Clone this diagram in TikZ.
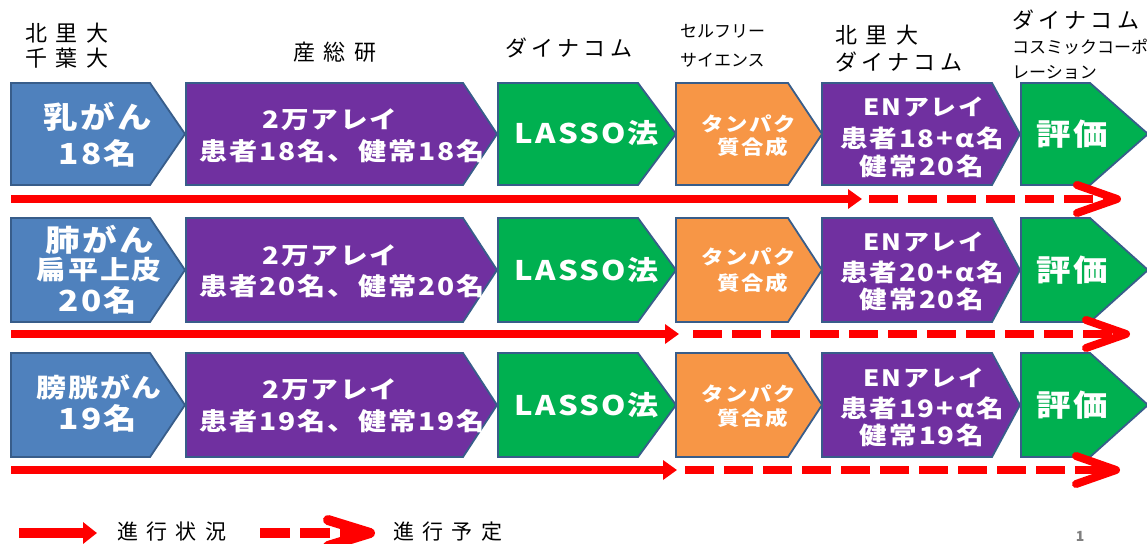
\documentclass[tikz,border=0pt]{standalone}
\usepackage{fontspec}
\usetikzlibrary{arrows.meta}
\newfontfamily\jpb{Noto Sans CJK JP}[FakeStretch=1.15,LetterSpace=8]
\newfontfamily\jpk{Noto Sans CJK JP}[LetterSpace=40]
\newfontfamily\jpn{Noto Sans CJK JP}[LetterSpace=20]
\newfontfamily\jps{Noto Sans CJK JP}
\definecolor{cblue}{HTML}{4F81BD}
\definecolor{cpurple}{HTML}{7030A0}
\definecolor{cgreen}{HTML}{00B050}
\definecolor{corange}{HTML}{F79646}
\definecolor{cedge}{HTML}{385D8A}
\newcommand\fs[1]{\fontsize{#1}{#1}\selectfont}
% pentagon: left, slant start, tip, top, bottom, colour
\newcommand\pent[6]{\filldraw[box,fill=#6] (#1,#4) -- (#2,#4) -- (#3,{(#4+#5)/2}) -- (#2,#5) -- (#1,#5) -- cycle;}
\tikzset{
  box/.style={draw=cedge, line width=1.8pt, line join=miter},
  wt/.style={text=white, inner sep=0pt, anchor=center},
  lbl/.style={text=black, inner sep=0pt, anchor=west},
  prog/.style={draw=red, line width=8pt, -{Triangle[length=14pt,width=19pt]}},
  plan/.style={draw=red, line width=8pt, dash pattern=on 29pt off 10pt},
  chev/.style={draw=red, line width=8pt, line cap=round, line join=round},
}
\begin{document}
\begin{tikzpicture}[x=1pt,y=-1pt]
\useasboundingbox (0,0) rectangle (1147,543);
% ---------- boxes ----------
\foreach \t/\b in {83/185,218/322,353/457}{
  \pent{11}{150}{185}{\t}{\b}{cblue}
  \pent{186}{463}{497}{\t}{\b}{cpurple}
  \pent{498}{638}{676}{\t}{\b}{cgreen}
  \pent{676}{788}{822}{\t}{\b}{corange}
  \pent{822}{992}{1020}{\t}{\b}{cpurple}
  \pent{1021}{1090}{1148}{\t}{\b}{cgreen}
}
% ---------- top labels ----------
\node[lbl,font=\jpk\fs{22}] (l1a) at (25,33) {北里大};
\node[lbl,font=\jpk\fs{22}] (l1b) at (25,58) {千葉大};
\node[lbl,font=\jpk\fs{22}] (l2) at (293,52) {産総研};
\node[lbl,font=\jpn\fs{22}] (l3) at (505,48) {ダイナコム};
\node[lbl,font=\jps\fs{17}] (l4a) at (680,31) {セルフリー};
\node[lbl,font=\jps\fs{17}] (l4b) at (680,60) {サイエンス};
\node[lbl,font=\jpk\fs{22}] (l5a) at (835,35) {北里大};
\node[lbl,font=\jpn\fs{22}] (l5b) at (835,62) {ダイナコム};
\node[lbl,font=\jpn\fs{22}] (l6a) at (1012,20) {ダイナコム};
\node[lbl,font=\jps\fs{17}] (l6b) at (1012,47) {コスミックコーポ};
\node[lbl,font=\jps\fs{17}] (l6c) at (1012,72) {レーション};
% ---------- row 1 ----------
\node[wt,font=\jpb\bfseries\fs{30}] (a1) at (98,117) {乳がん};
\node[wt,font=\jpb\bfseries\fs{29}] (a2) at (98,153) {18名};
\node[wt,font=\jpb\bfseries\fs{24}] (b1) at (330,120) {2万アレイ};
\node[wt,font=\jpb\bfseries\fs{24.5}] (b2) at (342,151) {患者18名、健常18名};
\node[wt,font=\jpb\bfseries\fs{27}] (c1) at (587,133) {LASSO法};
\node[wt,font=\jpb\bfseries\fs{19.5}] (d1) at (749,124) {タンパク};
\node[wt,font=\jpb\bfseries\fs{19.5}] (d2) at (753,147) {質合成};
\node[wt,font=\jpb\bfseries\fs{22.5}] (e1) at (924,107) {ENアレイ};
\node[wt,font=\jpb\bfseries\fs{24}] (e2) at (922,138) {患者18+α名};
\node[wt,font=\jpb\bfseries\fs{24}] (e3) at (922,166) {健常20名};
\node[wt,font=\jpb\bfseries\fs{30}] (f1) at (1072,134) {評価};
% ---------- row 2 ----------
\node[wt,font=\jpb\bfseries\fs{30}] (a3) at (100,240) {肺がん};
\node[wt,font=\jpb\bfseries\fs{26}] (a4) at (99,270) {扁平上皮};
\node[wt,font=\jpb\bfseries\fs{29}] (a5) at (98,300) {20名};
\node[wt,font=\jpb\bfseries\fs{24}] (b3) at (330,256) {2万アレイ};
\node[wt,font=\jpb\bfseries\fs{24.5}] (b4) at (342,286) {患者20名、健常20名};
\node[wt,font=\jpb\bfseries\fs{27}] (c2) at (587,270) {LASSO法};
\node[wt,font=\jpb\bfseries\fs{19.5}] (d3) at (749,257) {タンパク};
\node[wt,font=\jpb\bfseries\fs{19.5}] (d4) at (753,283) {質合成};
\node[wt,font=\jpb\bfseries\fs{22.5}] (e4) at (924,242) {ENアレイ};
\node[wt,font=\jpb\bfseries\fs{24}] (e5) at (922,272) {患者20+α名};
\node[wt,font=\jpb\bfseries\fs{24}] (e6) at (922,299) {健常20名};
\node[wt,font=\jpb\bfseries\fs{30}] (f2) at (1072,270) {評価};
% ---------- row 3 ----------
\node[wt,font=\jpb\bfseries\fs{26}] (a6) at (99,387) {膀胱がん};
\node[wt,font=\jpb\bfseries\fs{29}] (a7) at (98,418) {19名};
\node[wt,font=\jpb\bfseries\fs{24}] (b5) at (330,390) {2万アレイ};
\node[wt,font=\jpb\bfseries\fs{24.5}] (b6) at (342,421) {患者19名、健常19名};
\node[wt,font=\jpb\bfseries\fs{27}] (c3) at (587,405) {LASSO法};
\node[wt,font=\jpb\bfseries\fs{19.5}] (d5) at (749,394) {タンパク};
\node[wt,font=\jpb\bfseries\fs{19.5}] (d6) at (753,418) {質合成};
\node[wt,font=\jpb\bfseries\fs{22.5}] (e7) at (924,378) {ENアレイ};
\node[wt,font=\jpb\bfseries\fs{24}] (e8) at (922,408) {患者19+α名};
\node[wt,font=\jpb\bfseries\fs{24}] (e9) at (922,435) {健常19名};
\node[wt,font=\jpb\bfseries\fs{30}] (f3) at (1072,405) {評価};
% ---------- progress arrows ----------
\coordinate (s1) at (11,199);  \coordinate (t1) at (862,199);
\coordinate (p1) at (869,199); \coordinate (q1) at (1117,199);
\coordinate (s2) at (11,334);  \coordinate (t2) at (679,334);
\coordinate (p2) at (693,334); \coordinate (q2) at (1126,334);
\coordinate (s3) at (11,470);  \coordinate (t3) at (677,470);
\coordinate (p3) at (685,470); \coordinate (q3) at (1116,470);
\foreach \i in {1,2,3}{
  \draw[prog] (s\i) -- (t\i);
  \draw[plan] (p\i) -- ([xshift=-6pt]q\i);
  \draw[chev] ([shift={(-40pt,14pt)}]q\i) -- (q\i) -- ([shift={(-40pt,-14pt)}]q\i);
}
% ---------- legend ----------
\coordinate (ls) at (19,533); \coordinate (lt) at (97,533);
\draw[draw=red, line width=10pt, -{Triangle[length=14pt,width=21pt]}] (ls) -- (lt);
\node[lbl,font=\jpk\fs{21}] (lg1) at (117,532) {進行状況};
\coordinate (ds) at (260,533); \coordinate (dt) at (370,533);
\draw[draw=red, line width=10pt, dash pattern=on 30pt off 10pt] (ds) -- ([xshift=-6pt]dt);
\draw[chev, line width=10pt] ([shift={(-42pt,13pt)}]dt) -- (dt) -- ([shift={(-42pt,-13pt)}]dt);
\node[lbl,font=\jpk\fs{21}] (lg2) at (393,532) {進行予定};
\node[inner sep=0pt, anchor=south, text=gray, font=\jps\bfseries\fs{14}] (pg) at (1080,542) {1};
\end{tikzpicture}
\end{document}
